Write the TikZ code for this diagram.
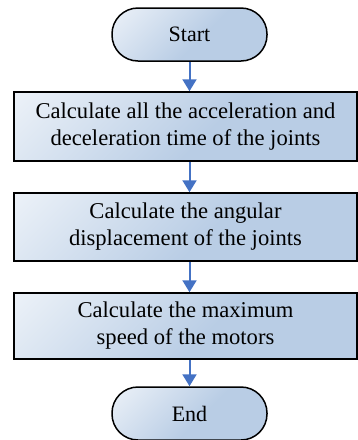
\documentclass[tikz,border=0pt]{standalone}
\usepackage{fontspec}
\setmainfont{Liberation Serif}
\usetikzlibrary{math,arrows.meta}

\definecolor{stepblue}{HTML}{B9CDE5}
\definecolor{flowblue}{HTML}{4472C4}

% diagonal fill: white in the upper left corner, blue elsewhere
\pgfdeclareverticalshading{stepfill}{100bp}{color(0bp)=(stepblue); color(45bp)=(stepblue); color(100bp)=(white)}

\tikzset{
	shaded/.style={shading=stepfill, shading angle=45},
	terminal/.style={shaded, draw=black, line width=1.5pt, rounded corners=26pt,
		minimum width=155pt, minimum height=53pt, inner sep=0pt,
		font=\fontsize{22}{27}\selectfont},
	stepbox/.style={shaded, draw=black, line width=1.5pt,
		minimum width=343pt, inner sep=0pt, align=center,
		font=\fontsize{22.6}{27}\selectfont},
	flow/.style={draw=flowblue, line width=2pt, -{Triangle[width=14pt,length=12pt]}}
}

\begin{document}
\begin{tikzpicture}[x=1pt,y=-1pt]
	% Constants
	\tikzmath{\midx = 190; \boxx = 185.5;}

	\useasboundingbox (0,0) rectangle (358,440);

	% Terminals
	\node[terminal] (start) at (\midx-0.5, 34.5) {Start};
	\node[terminal] (end) at (\midx-0.5, 413.5) {End};

	% Steps
	\node[stepbox, minimum height=69pt] (acc) at (\boxx, 126.5)
		{Calculate all the acceleration and\\deceleration time of the joints};
	\node[stepbox, minimum height=68pt] (ang) at (\boxx, 227)
		{Calculate the angular\\displacement of the joints};
	\node[stepbox, minimum height=66pt] (spd) at (\boxx, 326)
		{Calculate the maximum\\speed of the motors};

	% Arrows
	\draw[flow] (start) -- (start |- acc.north);
	\draw[flow] (start |- acc.south) -- (start |- ang.north);
	\draw[flow] (start |- ang.south) -- (start |- spd.north);
	\draw[flow] (start |- spd.south) -- (end);
\end{tikzpicture}
\end{document}
